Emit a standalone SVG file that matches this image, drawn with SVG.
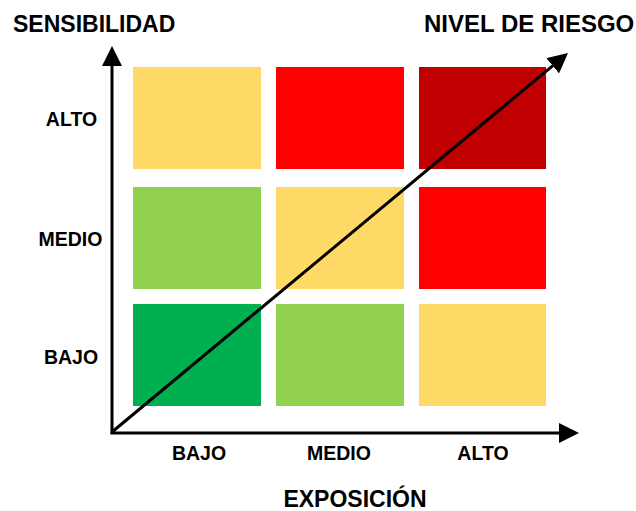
<svg xmlns="http://www.w3.org/2000/svg" width="636" height="511" viewBox="0 0 636 511">
  <style>
    .lbl { font-family: "Liberation Sans", Arial, sans-serif; font-weight: bold; fill: #000; }
    .tick { font-size: 19.5px; text-anchor: middle; }
    .title { font-size: 23px; }
    .ax { stroke: #000; stroke-width: 3; fill: none; }
  </style>
  <defs>
    <marker id="ah" viewBox="0 0 20 20" refX="14" refY="10" markerWidth="20" markerHeight="20" markerUnits="userSpaceOnUse" orient="auto">
      <path d="M0,0 L20,10 L0,20 Z" fill="#000"/>
    </marker>
  </defs>
  <rect width="636" height="511" fill="#fff"/>

  <g id="cells">
    <g id="cell-alto-bajo"><rect x="133" y="67" width="128" height="102" fill="#FFD966"/></g>
    <g id="cell-alto-medio"><rect x="276" y="67" width="128" height="102" fill="#FF0000"/></g>
    <g id="cell-alto-alto"><rect x="419" y="67" width="127" height="102" fill="#C00000"/></g>
    <g id="cell-medio-bajo"><rect x="133" y="187" width="128" height="102" fill="#92D050"/></g>
    <g id="cell-medio-medio"><rect x="276" y="187" width="128" height="102" fill="#FFD966"/></g>
    <g id="cell-medio-alto"><rect x="419" y="187" width="127" height="102" fill="#FF0000"/></g>
    <g id="cell-bajo-bajo"><rect x="133" y="304" width="128" height="102" fill="#00B050"/></g>
    <g id="cell-bajo-medio"><rect x="276" y="304" width="128" height="102" fill="#92D050"/></g>
    <g id="cell-bajo-alto"><rect x="419" y="304" width="127" height="102" fill="#FFD966"/></g>
  </g>

  <g id="connectors">
    <line class="ax" x1="112" y1="434" x2="112" y2="52" marker-end="url(#ah)"/>
    <line class="ax" x1="110.5" y1="433" x2="573" y2="433" marker-end="url(#ah)"/>
    <line class="ax" x1="112" y1="432" x2="563.4" y2="56.8" marker-end="url(#ah)"/>
  </g>

  <g id="titles">
    <text class="lbl title" x="13" y="32">SENSIBILIDAD</text>
    <text class="lbl title" x="424" y="32" style="font-size:24px">NIVEL DE RIESGO</text>
    <text class="lbl title" x="355" y="507" text-anchor="middle">EXPOSICIÓN</text>
  </g>

  <g id="y-labels">
    <text class="lbl tick" x="71.5" y="126">ALTO</text>
    <text class="lbl tick" x="70.5" y="246">MEDIO</text>
    <text class="lbl tick" x="71" y="364">BAJO</text>
  </g>

  <g id="x-labels">
    <text class="lbl tick" x="199" y="460">BAJO</text>
    <text class="lbl tick" x="339" y="460">MEDIO</text>
    <text class="lbl tick" x="483" y="460">ALTO</text>
  </g>
</svg>
